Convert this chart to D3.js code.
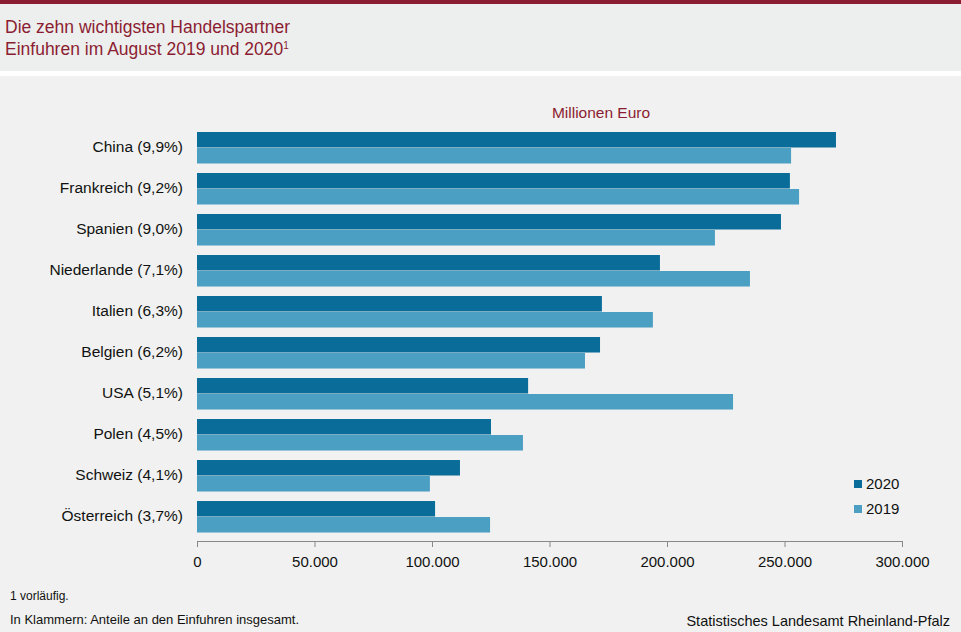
<!DOCTYPE html>
<html><head><meta charset="utf-8">
<script src="https://cdn.jsdelivr.net/npm/d3@7"></script>
<style>body{margin:0;background:#f0f1f0;font-family:"Liberation Sans",Arial,sans-serif}</style>
</head><body><svg width="961" height="632"></svg>
<script>
const countries = ['China (9,9%)', 'Frankreich (9,2%)', 'Spanien (9,0%)', 'Niederlande (7,1%)', 'Italien (6,3%)',
  'Belgien (6,2%)', 'USA (5,1%)', 'Polen (4,5%)', 'Schweiz (4,1%)', 'Österreich (3,7%)'];
const values2020 = [271900, 252300, 248500, 197000, 172300, 171500, 140900, 125100, 111900, 101300];
const values2019 = [252800, 256200, 220400, 235300, 194000, 165100, 228100, 138700, 99100, 124700];
const ticks = [0, 50000, 100000, 150000, 200000, 250000, 300000];

const svg = d3.select('svg');
const red = '#8b1d32';

// header
svg.append('rect').attr('width', 961).attr('height', 632).attr('fill', '#f0f1f0');
svg.append('rect').attr('width', 961).attr('height', 72).attr('fill', '#edefee');
svg.append('rect').attr('width', 961).attr('height', 4).attr('fill', red);
svg.append('rect').attr('y', 71).attr('width', 961).attr('height', 5).attr('fill', '#ffffff');
svg.append('text').attr('x', 5).attr('y', 33).attr('fill', red).attr('font-size', 17.5)
  .text('Die zehn wichtigsten Handelspartner');
svg.append('text').attr('x', 5).attr('y', 55).attr('fill', red).attr('font-size', 17.5)
  .text('Einfuhren im August 2019 und 2020')
  .append('tspan').attr('font-size', 10).attr('dy', -6).text('1');

// scales
const x = d3.scaleLinear().domain([0, 300000]).range([197, 902]);
const y = d3.scaleBand().domain(countries).range([132, 533]).paddingInner(0.22).paddingOuter(0);
const half = 15.5;

const g = svg.append('g');
g.selectAll('.b20').data(countries).enter().append('rect')
  .attr('x', x(0)).attr('y', d => y(d))
  .attr('width', (d, i) => x(values2020[i]) - x(0)).attr('height', half)
  .attr('fill', '#0a6d99');
g.selectAll('.b19').data(countries).enter().append('rect')
  .attr('x', x(0)).attr('y', d => y(d) + half + 0.5)
  .attr('width', (d, i) => x(values2019[i]) - x(0)).attr('height', half)
  .attr('fill', '#4b9fc3');

g.selectAll('.lab').data(countries).enter().append('text')
  .attr('x', 183).attr('y', d => y(d) + half + 4)
  .attr('text-anchor', 'end').attr('font-size', 15.5).attr('fill', '#111').text(d => d);

// axis
const ax = svg.append('g').attr('transform', 'translate(0,541)')
  .call(d3.axisBottom(x).tickValues(ticks).tickSize(6).tickSizeOuter(0)
    .tickFormat(d => d3.format(',')(d).replace(/,/g, '.')));
ax.select('.domain').attr('stroke', '#888');
ax.selectAll('line').attr('stroke', '#888');
ax.selectAll('text').attr('font-size', 15).attr('fill', '#111').attr('dy', '1.1em')
  .attr('font-family', '"Liberation Sans",Arial,sans-serif');

svg.append('text').attr('x', 601).attr('y', 118).attr('text-anchor', 'middle')
  .attr('fill', red).attr('font-size', 15.5).text('Millionen  Euro');

// legend
const leg = [['2020', '#0a6d99'], ['2019', '#4b9fc3']];
leg.forEach((l, i) => {
  svg.append('rect').attr('x', 854).attr('y', 480 + i * 25).attr('width', 8).attr('height', 8).attr('fill', l[1]);
  svg.append('text').attr('x', 866).attr('y', 489 + i * 25).attr('font-size', 15).attr('fill', '#111').text(l[0]);
});

// footnotes
svg.append('text').attr('x', 10).attr('y', 600).attr('font-size', 12).attr('fill', '#111').text('1 vorläufig.');
svg.append('text').attr('x', 10).attr('y', 624).attr('font-size', 13).attr('fill', '#111')
  .text('In Klammern: Anteile an den Einfuhren  insgesamt.');
svg.append('text').attr('x', 950).attr('y', 626).attr('text-anchor', 'end').attr('font-size', 14.5).attr('fill', '#111')
  .text('Statistisches Landesamt Rheinland-Pfalz');
</script></body></html>
